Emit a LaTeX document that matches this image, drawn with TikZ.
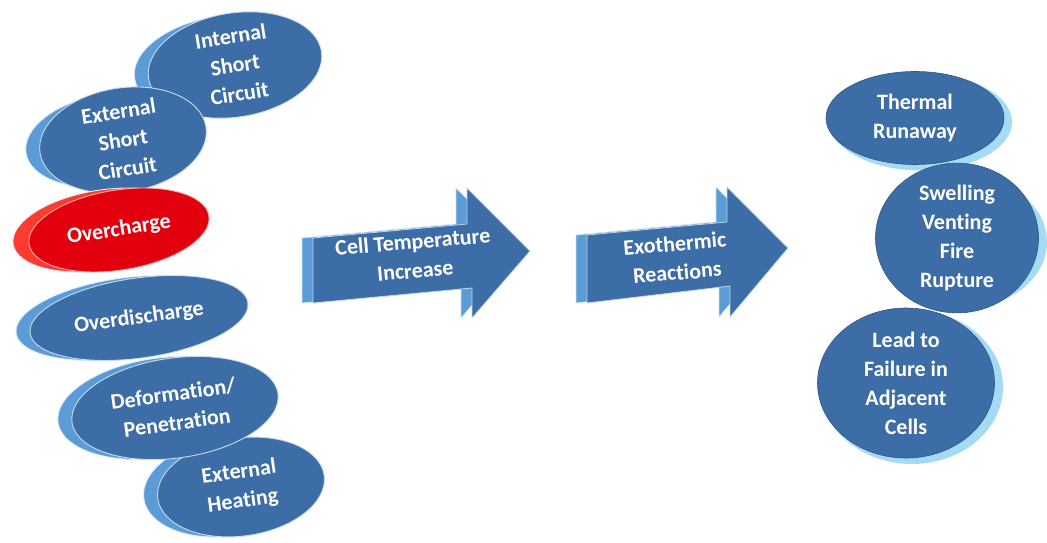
\documentclass[tikz,border=0pt]{standalone}
\usepackage{fontspec}
\setmainfont[Ligatures=NoCommon]{Carlito}
\usetikzlibrary{shapes.geometric}

\definecolor{face}{HTML}{3C6DA6}
\definecolor{side}{HTML}{5B9BD6}
\definecolor{redface}{HTML}{E2000E}
\definecolor{redside}{HTML}{FF3A2E}
\definecolor{rim}{HTML}{A4DAF4}

\begin{document}
\begin{tikzpicture}[x=1pt,y=-1pt]

\tikzstyle{txt}=[text=white,font=\fontsize{22}{29}\selectfont\bfseries,align=center,inner sep=0pt]
\tikzstyle{disc}=[txt,ellipse,fill=face,draw=white!65!side,line width=.9pt]
\tikzstyle{edge}=[ellipse,fill=side,draw=white!80!side,line width=.9pt]
\tikzstyle{ball}=[txt,ellipse,fill=face,draw=face!80!black,line width=.6pt]
\tikzstyle{glow}=[ellipse,fill=rim,draw=none]
\tikzstyle{blockside}=[fill=side,draw=white!70!side,line width=.8pt,line join=round]
\tikzstyle{blockface}=[fill=face,draw=white!60!side,line width=.8pt,line join=round]

\useasboundingbox (0,0) rectangle (1047,543);

% causes, stacked discs
\node[edge,minimum width=175,minimum height=97,rotate=9] (isc-side) at (221,65) {};
\node[disc,minimum width=175,minimum height=97,rotate=9] (isc) at (235,65) {Internal\\Short\\Circuit};

\node[edge,minimum width=168,minimum height=92,rotate=9] (esc-side) at (109,140) {};
\node[disc,minimum width=168,minimum height=92,rotate=9] (esc) at (123,140) {External\\Short\\Circuit};

\node[edge,minimum width=220,minimum height=80,rotate=8] (odc-side) at (125,318) {};
\node[disc,minimum width=220,minimum height=80,rotate=8] (odc) at (139,318) {Overdischarge};

\node[edge,fill=redside,minimum width=182,minimum height=80,rotate=9] (ovc-side) at (103,230) {};
\node[disc,fill=redface,draw=white!60!redside,minimum width=182,minimum height=80,rotate=9] (ovc) at (119,230) {Overcharge};

\node[edge,minimum width=168,minimum height=98,rotate=8] (heat-side) at (227,487) {};
\node[disc,minimum width=168,minimum height=98,rotate=8] (heat) at (241,487) {External\\Heating};

\node[edge,minimum width=208,minimum height=100,rotate=8] (def-side) at (161,408) {};
\node[disc,minimum width=208,minimum height=100,rotate=8] (def) at (175,408) {Deformation/\\Penetration};

% block arrows
\draw[blockside,xshift=-11] (313,238) -- (467,224) -- (467,188) -- (530,251) -- (472,318) -- (472,288) -- (313,303) -- cycle;
\draw[blockface] (313,238) -- (467,224) -- (467,188) -- (530,251) -- (472,318) -- (472,288) -- (313,303) -- cycle;
\node[txt,rotate=5] (temp) at (414,256) {Cell Temperature\\Increase};

\draw[blockside,xshift=-11] (587,235) -- (727,222) -- (727,187) -- (788,248) -- (730,317) -- (730,286) -- (587,303) -- cycle;
\draw[blockface] (587,235) -- (727,222) -- (727,187) -- (788,248) -- (730,317) -- (730,286) -- (587,303) -- cycle;
\node[txt,rotate=5] (exo) at (676,258) {Exothermic\\Reactions};

% consequences
\node[glow,minimum width=182,minimum height=97] (run-rim) at (921,122) {};
\node[ball,minimum width=178,minimum height=93] (run) at (915,118) {Thermal\\Runaway};

\node[glow,minimum width=168,minimum height=132] (fire-rim) at (963,242) {};
\node[ball,minimum width=163,minimum height=128] (fire) at (957,238) {Swelling\\Venting\\Fire\\Rupture};

\node[glow,minimum width=182,minimum height=154] (adj-rim) at (912,387) {};
\node[ball,minimum width=177,minimum height=150] (adj) at (906,383) {Lead to\\Failure in\\Adjacent\\Cells};

\end{tikzpicture}
\end{document}
